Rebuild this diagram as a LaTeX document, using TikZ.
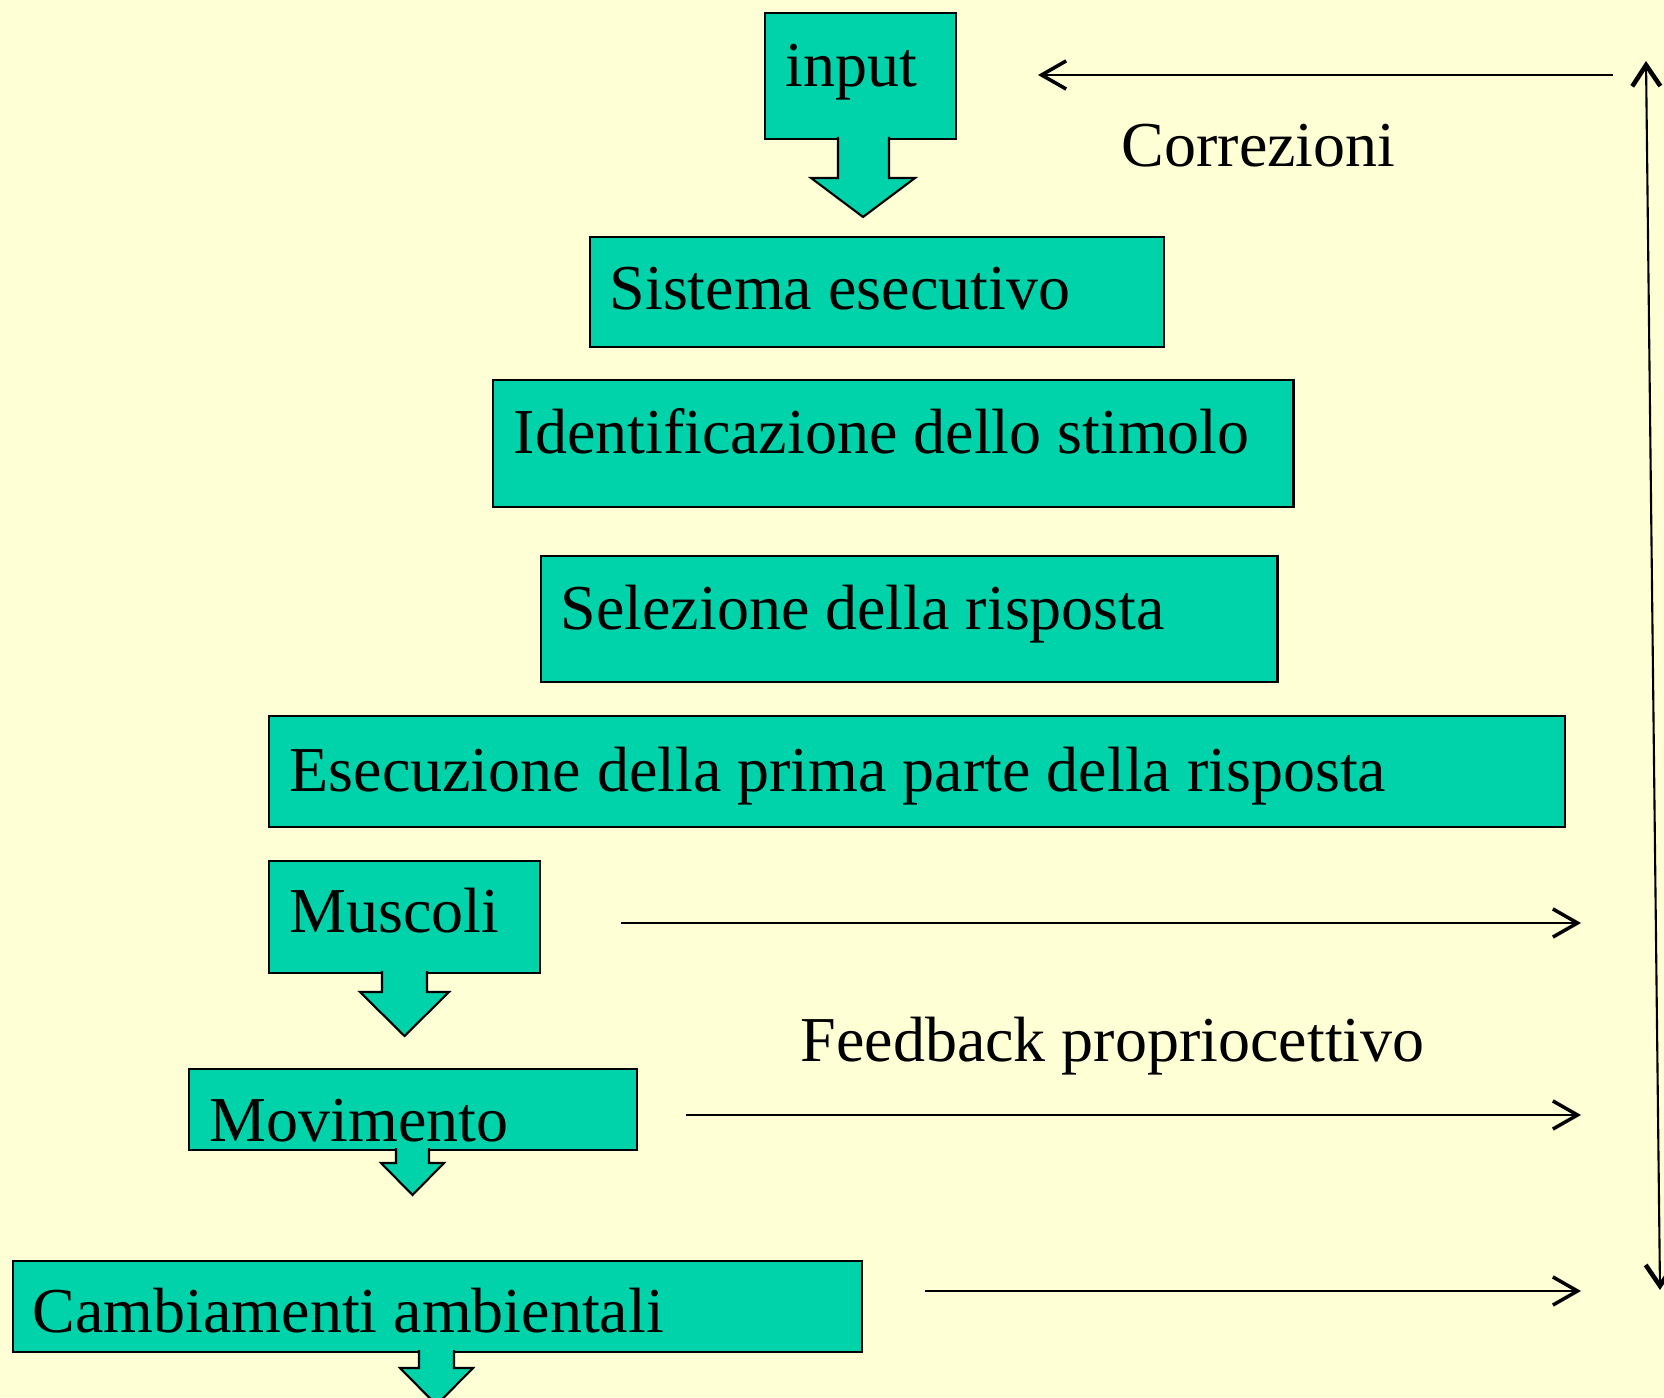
\documentclass[tikz,border=0pt]{standalone}
\usepackage{fontspec}
\setmainfont{Liberation Serif}
\usetikzlibrary{arrows.meta, calc}
\definecolor{boxfill}{RGB}{0,210,170}
\definecolor{slidebg}{RGB}{255,255,213}
\tikzset{>={Straight Barb[length=7pt,width=8pt,line width=1pt]}}

\begin{document}
\begin{tikzpicture}[x=0.01cm, y=-0.01cm,
    box/.style = {draw, fill=boxfill, line width=0.6pt, inner sep=0pt, anchor=north west},
    txt/.style = {anchor=base west, inner sep=0pt, font=\fontsize{18.2}{22}\selectfont},
    blockarrow/.style = {draw, fill=boxfill, line width=0.6pt, line join=miter},
    link/.style = {->, line width=0.6pt}]

    \useasboundingbox (0,0) rectangle (1664,1398);
    \clip (0,0) rectangle (1664,1398);
    \fill[slidebg] (0,0) rectangle (1664,1398);

    % boxes
    \node[box, minimum width=1.91cm,  minimum height=1.26cm] (input)    at (764,12)   {};
    \node[box, minimum width=5.74cm,  minimum height=1.10cm] (sistema)  at (589,236)  {};
    \node[box, minimum width=8.00cm,  minimum height=1.27cm] (ident)    at (492,379)  {};
    \node[box, minimum width=7.36cm,  minimum height=1.26cm] (selez)    at (540,555)  {};
    \node[box, minimum width=12.95cm, minimum height=1.11cm] (esec)     at (268,715)  {};
    \node[box, minimum width=2.71cm,  minimum height=1.12cm] (muscoli)  at (268,860)  {};
    \node[box, minimum width=4.48cm,  minimum height=0.81cm] (movim)    at (188,1068) {};
    \node[box, minimum width=8.48cm,  minimum height=0.91cm] (cambiam)  at (12,1260)  {};

    \node[txt] (input-t)   at ($(input.north west)+(21,75)$)   {input};
    \node[txt] (sistema-t) at ($(sistema.north west)+(20,74)$) {Sistema esecutivo};
    \node[txt] (ident-t)   at ($(ident.north west)+(21,75)$)   {Identificazione dello stimolo};
    \node[txt] (selez-t)   at ($(selez.north west)+(20,75)$)   {Selezione della risposta};
    \node[txt] (esec-t)    at ($(esec.north west)+(21,76)$)    {Esecuzione della prima parte della risposta};
    \node[txt] (muscoli-t) at ($(muscoli.north west)+(21,72)$) {Muscoli};
    \node[txt] (movim-t)   at ($(movim.north west)+(21,73)$)   {Movimento};
    \node[txt] (cambiam-t) at ($(cambiam.north west)+(20,72)$) {Cambiamenti ambientali};

    % block arrows under the boxes
    \foreach \xl/\xr/\ya/\yb/\hl/\hr/\yt in {838/889/139/178/811/915/217,
                                            382/427/973/992/360/449/1036,
                                            396/429/1150/1163/381/444/1195,
                                            419/454/1352/1368/400/473/1405}{
        \filldraw[blockarrow] (\xl,\ya-2) -- (\xl,\yb) -- (\hl,\yb)
            -- ({(\hl+\hr)/2},\yt) -- (\hr,\yb) -- (\xr,\yb) -- (\xr,\ya-2);
    }

    % correzioni
    \coordinate (corr-r) at (1613,75);
    \coordinate (corr-l) at (1038,75);
    \draw[link] (corr-r) -- (corr-l);
    \node[txt] (corr-t) at (1121,167) {Correzioni};

    % feedback
    \coordinate (fb1-l) at (621,923);
    \coordinate (fb1-r) at (1581,923);
    \coordinate (fb2-l) at (686,1115);
    \coordinate (fb2-r) at (1581,1115);
    \coordinate (fb3-l) at (925,1291);
    \coordinate (fb3-r) at (1581,1291);
    \draw[link] (fb1-l) -- (fb1-r);
    \draw[link] (fb2-l) -- (fb2-r);
    \draw[link] (fb3-l) -- (fb3-r);
    \node[txt] (fb-t) at (800,1061) {Feedback propriocettivo};

    \coordinate (back-top) at (1646,61);
    \coordinate (back-bot) at (1660,1290);
    \draw[{Straight Barb[length=6pt,width=8pt,line width=1.3pt]}-{Straight Barb[length=6pt,width=8pt,line width=1.3pt]}, line width=0.6pt]
        (back-bot) -- (back-top);

\end{tikzpicture}
\end{document}
